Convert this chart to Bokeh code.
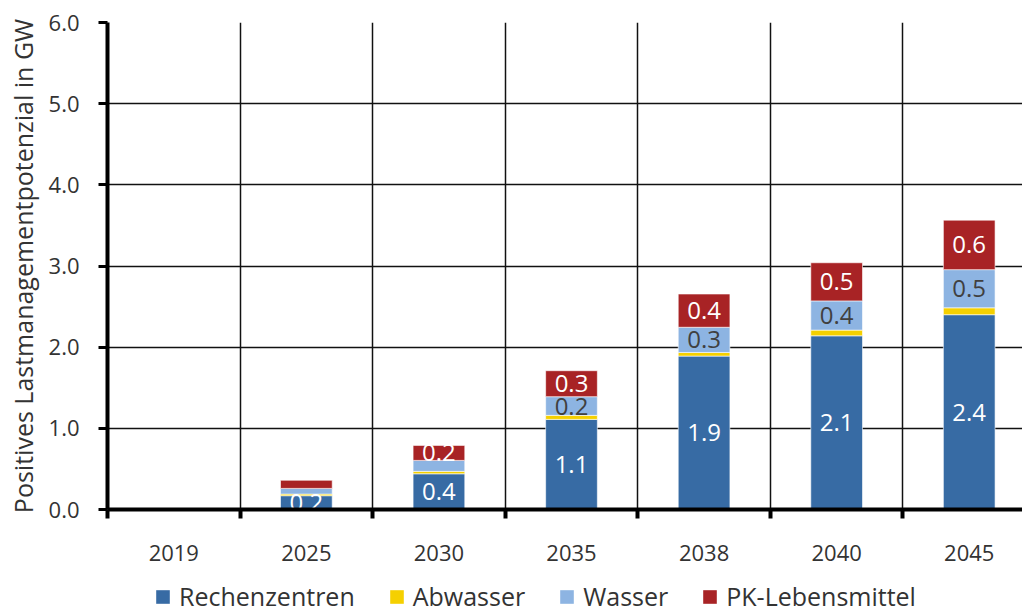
from bokeh.plotting import figure
from bokeh.layouts import column
from bokeh.models import FixedTicker, Range1d, Legend, LegendItem, ColumnDataSource
from bokeh.core.properties import value
from bokeh.embed import file_html
from bokeh.resources import INLINE

# ---------------- data ----------------
years = ["2019", "2025", "2030", "2035", "2038", "2040", "2045"]
rechenzentren = [0.0, 0.17, 0.44, 1.11, 1.89, 2.14, 2.40]
abwasser = [0.0, 0.02, 0.03, 0.05, 0.045, 0.07, 0.085]
wasser = [0.0, 0.07, 0.135, 0.23, 0.31, 0.36, 0.47]
pk_lebensmittel = [0.0, 0.10, 0.185, 0.32, 0.41, 0.47, 0.61]
series_names = ["Rechenzentren", "Abwasser", "Wasser", "PK-Lebensmittel"]
y_ticks = [0, 1, 2, 3, 4, 5, 6]
y_tick_labels = ["0.0", "1.0", "2.0", "3.0", "4.0", "5.0", "6.0"]
y_title = "Positives Lastmanagementpotenzial in GW"

colors = ["#376BA4", "#F5D000", "#8DB4E2", "#A82325"]
label_colors = ["white", "#404040", "#404040", "white"]
FONT = "Open Sans"
FS = "22px"
FS_BIG = "25px"
TXT = "#333333"

series = [rechenzentren, abwasser, wasser, pk_lebensmittel]
xs = [i + 0.5 for i in range(len(years))]
boundaries = list(range(0, len(years)))

data = dict(x=xs)
for name, vals in zip(series_names, series):
    data[name] = vals
src = ColumnDataSource(data)

W = 1022
p = figure(width=W, height=568, output_backend="svg", toolbar_location=None,
           x_range=Range1d(0, (W - 107.5) / 132.5), y_range=Range1d(0, 6),
           min_border_left=107, min_border_top=22, min_border_right=0,
           min_border_bottom=59, outline_line_color=None)

p.vbar_stack(series_names, x="x", width=0.39, source=src,
             color=colors, line_color="white", line_width=0.6)

# segment labels
lx, ly, lt, lc = [], [], [], []
for i, x in enumerate(xs):
    base = 0.0
    for s, vals in enumerate(series):
        v = vals[i]
        if v >= 0.15:
            lx.append(x)
            ly.append(base + v / 2)
            lt.append(f"{v:.1f}")
            lc.append(label_colors[s])
        base += v
p.text(x=lx, y=ly, text=lt, text_color=lc, text_align="center",
       text_baseline="middle", text_font=value(FONT), text_font_size="24px")

# axes
xa = p.xaxis[0]
xa.ticker = FixedTicker(ticks=xs, minor_ticks=boundaries)
xa.major_label_overrides = {x: y for x, y in zip(xs, years)}
xa.major_tick_line_color = None
xa.minor_tick_in = 0
xa.minor_tick_out = 9
xa.minor_tick_line_width = 4
xa.minor_tick_line_color = "black"
xa.axis_line_width = 4
xa.axis_line_color = "black"
xa.major_label_standoff = 26
xa.major_label_text_font = FONT
xa.major_label_text_font_size = FS
xa.major_label_text_color = TXT

ya = p.yaxis[0]
ya.ticker = FixedTicker(ticks=y_ticks, minor_ticks=[])
ya.major_label_overrides = {t: l for t, l in zip(y_ticks, y_tick_labels)}
ya.major_tick_in = 0
ya.major_tick_out = 9
ya.major_tick_line_width = 3
ya.major_tick_line_color = "black"
ya.axis_line_width = 4
ya.axis_line_color = "black"
ya.major_label_standoff = 19
ya.major_label_text_font = FONT
ya.major_label_text_font_size = FS
ya.major_label_text_color = TXT
ya.axis_label = y_title
ya.axis_label_text_font = FONT
ya.axis_label_text_font_size = FS_BIG
ya.axis_label_text_font_style = "normal"
ya.axis_label_text_color = TXT
ya.axis_label_standoff = 6

p.xgrid.grid_line_color = None
p.xgrid.minor_grid_line_color = "#111111"
p.xgrid.minor_grid_line_width = 1.5
p.ygrid.grid_line_color = "#111111"
p.ygrid.grid_line_width = 1.5

# legend strip (same bars, placed far outside the visible range; only legend glyphs show)
p2 = figure(width=W, height=45, output_backend="svg", toolbar_location=None,
            x_range=p.x_range, y_range=Range1d(100, 101), min_border=0,
            outline_line_color=None)
p2.axis.visible = False
p2.grid.visible = False
leg_r = p2.vbar_stack(series_names, x="x", width=0.39, source=src,
                      color=colors, line_color=None)
legend = Legend(items=[LegendItem(label=n, renderers=[r]) for n, r in zip(series_names, leg_r)],
                orientation="horizontal", location=(47, 0),
                border_line_color=None, background_fill_alpha=0,
                label_text_font=FONT, label_text_font_size=FS_BIG, label_text_color=TXT,
                glyph_width=17, glyph_height=17, label_standoff=8, spacing=33,
                padding=0, margin=0)
p2.add_layout(legend, "center")

open("out.html", "w").write(file_html(column(p, p2, spacing=0), INLINE))
